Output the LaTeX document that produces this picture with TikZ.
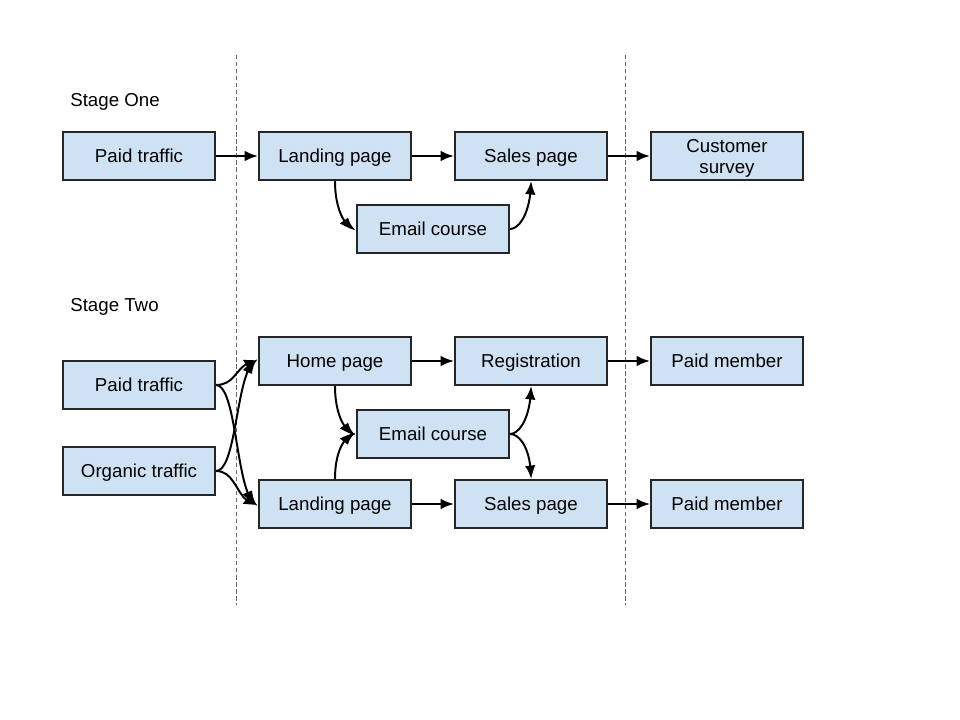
\documentclass[tikz,border=0pt]{standalone}
\usepackage{fontspec}
\setmainfont{Liberation Sans}
\usetikzlibrary{arrows.meta,bending}
\definecolor{boxblue}{HTML}{CFE2F3}
\tikzset{
	pagebox/.style={draw=black!85, line width=1.4pt, fill=boxblue, minimum width=3.8cm, minimum height=1.2cm, inner sep=1pt, text height=12pt, text depth=2.4pt, font=\fontsize{13.3}{15}\selectfont},
	twolinebox/.style={pagebox, text height=, text depth=, align=center},
	flow/.style={line width=1.4pt, -{Latex[length=9.5pt,width=7.5pt,bend]}},
	stagelabel/.style={anchor=base west, inner sep=0pt, font=\fontsize{13.3}{15}\selectfont}
}

\begin{document}
\begin{tikzpicture}[x=0.025cm, y=-0.025cm]
		%%%%% START %%%%%
		\useasboundingbox (0, 0) rectangle (960, 720);
		
		\draw[black!60, line width=0.6pt, dash pattern=on 3pt off 2pt] (236, 55) -- (236, 605);
		\draw[black!60, line width=0.6pt, dash pattern=on 3pt off 2pt] (625, 55) -- (625, 605);
		
		% stage one
		\node[stagelabel] (labelone) at (70, 106.5) {Stage One};
		\node[pagebox] (paidone) at (139, 156) {Paid traffic};
		\node[pagebox] (landone) at (335, 156) {Landing page};
		\node[pagebox] (salesone) at (531, 156) {Sales page};
		\node[twolinebox] (survey) at (727, 156) {\rule{0pt}{12.5pt}Customer\\survey};
		\node[pagebox] (emailone) at (433, 229) {Email course};
		
		\draw[flow] (paidone) -- (landone);
		\draw[flow] (landone) -- (salesone);
		\draw[flow] (salesone) -- (survey);
		\draw[flow] (landone.south) .. controls +(0, 30) and +(-10, 0) .. (emailone.west);
		\draw[flow] (emailone.east) .. controls +(10, 0) and +(0, 30) .. (salesone.south);
		
		% stage two
		\node[stagelabel] (labeltwo) at (70, 311.5) {Stage Two};
		\node[pagebox] (paidtwo) at (139, 385) {Paid traffic};
		\node[pagebox] (organic) at (139, 471) {Organic traffic};
		\node[pagebox] (home) at (335, 361) {Home page};
		\node[pagebox] (register) at (531, 361) {Registration};
		\node[pagebox] (memberup) at (727, 361) {Paid member};
		\node[pagebox] (emailtwo) at (433, 434) {Email course};
		\node[pagebox] (landtwo) at (335, 504) {Landing page};
		\node[pagebox] (salestwo) at (531, 504) {Sales page};
		\node[pagebox] (memberdown) at (727, 504) {Paid member};
		
		\draw[flow] (paidtwo.east) .. controls +(22, 0) and +(-22, 0) .. (home.west);
		\draw[flow] (paidtwo.east) .. controls +(22, 0) and +(-22, 0) .. (landtwo.west);
		\draw[flow] (organic.east) .. controls +(22, 0) and +(-22, 0) .. (home.west);
		\draw[flow] (organic.east) .. controls +(22, 0) and +(-22, 0) .. (landtwo.west);
		
		\draw[flow] (home) -- (register);
		\draw[flow] (register) -- (memberup);
		\draw[flow] (landtwo) -- (salestwo);
		\draw[flow] (salestwo) -- (memberdown);
		
		\draw[flow] (home.south) .. controls +(0, 30) and +(-10, 0) .. (emailtwo.west);
		\draw[flow] (landtwo.north) .. controls +(0, -30) and +(-10, 0) .. (emailtwo.west);
		\draw[flow] (emailtwo.east) .. controls +(10, 0) and +(0, 30) .. (register.south);
		\draw[flow] (emailtwo.east) .. controls +(10, 0) and +(0, -30) .. (salestwo.north);
		
		%%%%% END %%%%%
	\end{tikzpicture}
\end{document}
